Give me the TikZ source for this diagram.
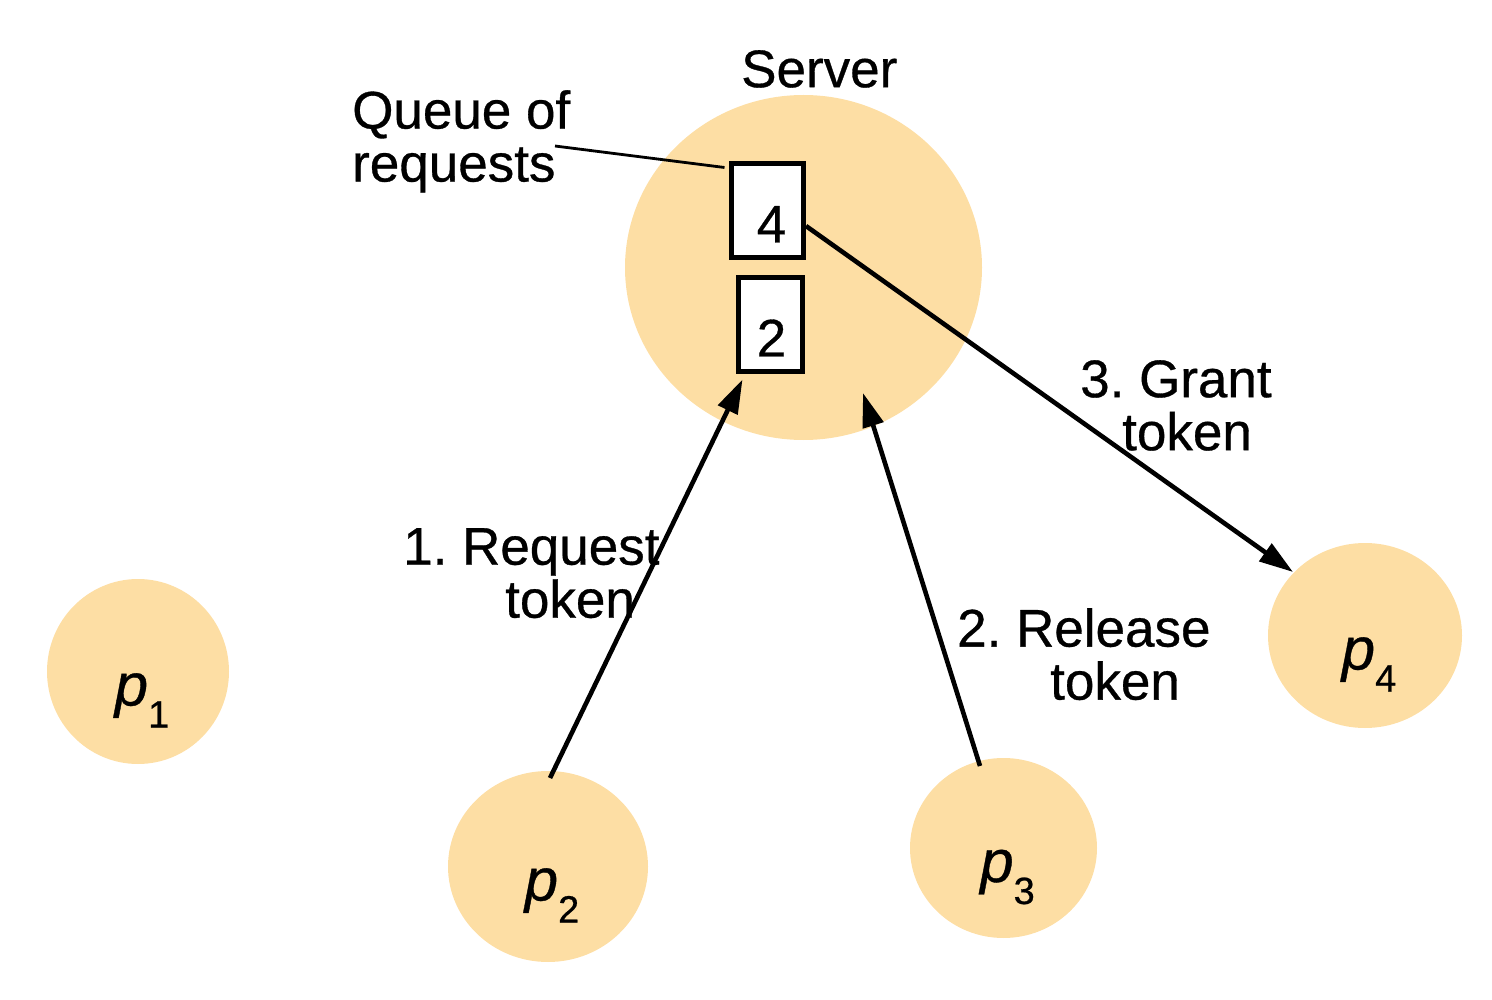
\documentclass[tikz,border=0pt]{standalone}
\usepackage{fontspec}
\setmainfont{Liberation Sans}[FakeBold=0.6]
\frenchspacing
\usetikzlibrary{arrows.meta,shapes.geometric,calc}
\definecolor{nodefill}{RGB}{253,222,164}
\newcommand{\plab}[1]{\hspace*{8pt}{\fontsize{60}{60}\selectfont\itshape p}\raisebox{-22pt}{\fontsize{38}{38}\selectfont #1}}
\begin{document}
\begin{tikzpicture}[x=1pt,y=-1pt,
  blob/.style={ellipse, fill=nodefill, inner sep=0pt, text height=68pt, text depth=0pt},
  qbox/.style={draw=black, line width=5pt, fill=white, inner sep=0pt, minimum height=94pt,
    text height=68pt, text depth=4pt, font=\fontsize{53}{54}\selectfont},
  lbl/.style={inner sep=0pt, anchor=north west, align=left, font=\fontsize{53}{53}\selectfont},
  msg/.style={line width=4.6pt, -{Triangle[length=34pt,width=21pt]}},
]
\useasboundingbox (0,0) rectangle (1492,1000);
% server
\node[ellipse, fill=nodefill, inner sep=0pt, minimum width=357pt, minimum height=345pt] (server) at (803.5,267.5) {};
\node[qbox, minimum width=72pt] (b4) at (767.5,210.5) {\hspace*{8pt}4};
\node[qbox, minimum width=64pt] (b2) at (770.5,324.5) {\hspace*{2pt}2};
% processes
\node[blob, minimum width=182pt, minimum height=185pt] (p1) at (138,671.5) {\plab{1}};
\node[blob, minimum width=200pt, minimum height=191pt] (p2) at (548,866.5) {\plab{2}};
\node[blob, minimum width=187pt, minimum height=180pt] (p3) at (1003.5,848) {\plab{3}};
\node[blob, minimum width=194pt, minimum height=185pt] (p4) at (1365,635.5) {\plab{4}};
% labels
\node[lbl] (srv) at (741,50) {Server};
\node[lbl] (queue) at (352,90) {Queue of\\requests};
\coordinate (qend) at (555,146);
\node[lbl] (req) at (403,528) {1. Request\\\hspace*{102pt}token};
\node[lbl] (rel) at (957,608) {2. Release\\\hspace*{93pt}token};
\node[lbl] (gr) at (1080,360) {3. Grant\\\hspace*{42pt}token};
% connectors
\draw[line width=2.8pt] (qend) -- ($(b4.north west)+(-4.5,6.5)$);
\draw[msg] ($(p2.center)+(2,-88.5)$) -- ($(b2.south west)+(6.5,5.5)$);
\draw[msg] ($(p3.center)+(-23.5,-82)$) -- ($(server.center)+(59.5,125.5)$);
\draw[msg] ($(b4.east)+(0,15.5)$) -- ($(p4.center)+(-72,-63.5)$);
\end{tikzpicture}
\end{document}
